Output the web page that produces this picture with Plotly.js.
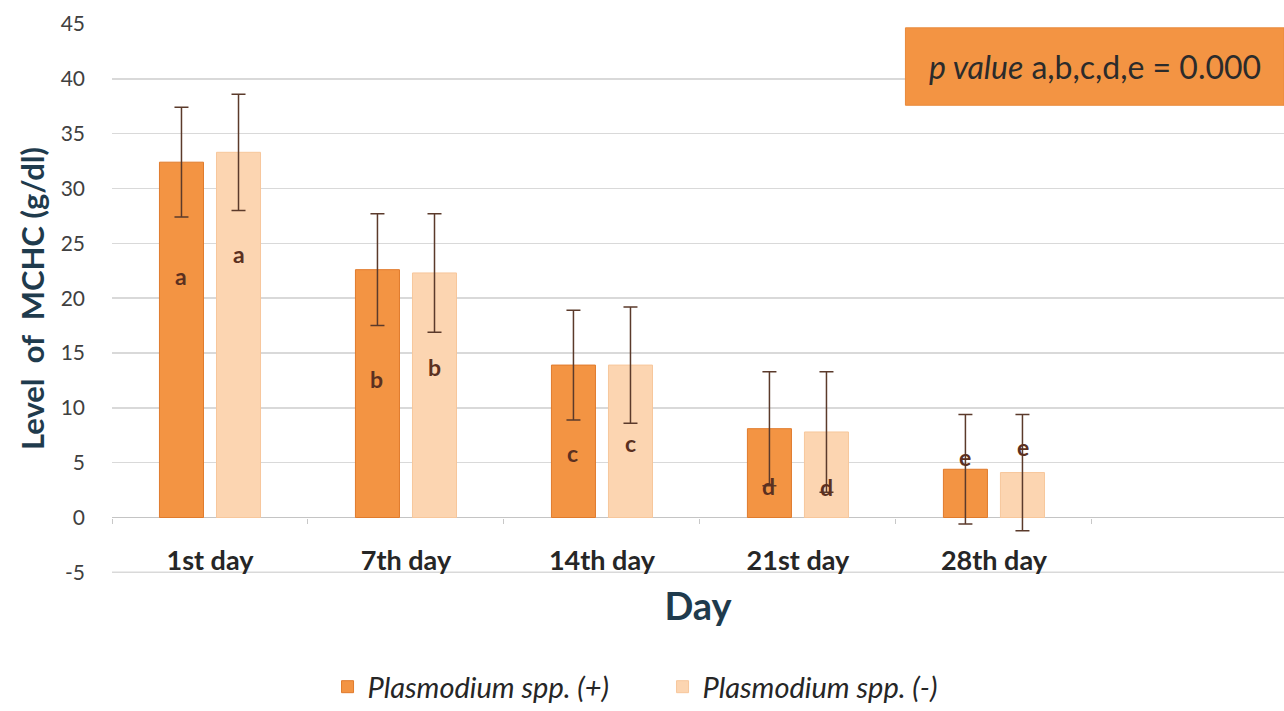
<!DOCTYPE html>
<html><head><meta charset="utf-8">
<script src="https://cdn.plot.ly/plotly-3.0.1.min.js"></script>
<style>html,body{margin:0;padding:0;background:#fff}#chart{width:1284px;height:711px}</style>
</head><body><div id="chart"></div>
<script>
const categories = ["1st day", "7th day", "14th day", "21st day", "28th day"];
const posValues = [32.4, 22.6, 13.9, 8.1, 4.4];
const posErrors = [5.0, 5.1, 5.0, 5.2, 5.0];
const negValues = [33.3, 22.3, 13.9, 7.8, 4.1];
const negErrors = [5.3, 5.4, 5.3, 5.5, 5.3];
const posLetters = ["a", "b", "c", "d", "e"];
const negLetters = ["a", "b", "c", "d", "e"];
const posLetterY = [22.0, 12.6, 5.9, 2.9, 5.5];
const negLetterY = [24.0, 13.7, 6.8, 2.8, 6.4];
const yTicks = [-5, 0, 5, 10, 15, 20, 25, 30, 35, 40, 45];

const FONT = 'Lato, "Open Sans", sans-serif';
const errColor = '#5b3a2b';
const traces = [
  {type:'bar', name:'<i>Plasmodium spp. (+)</i>', x:categories, y:posValues,
   marker:{color:'#f39443', line:{color:'#e07b2c', width:1}},
   error_y:{type:'data', array:posErrors, visible:true, color:errColor, thickness:1.5, width:7}},
  {type:'bar', name:'<i>Plasmodium spp. (-)</i>', x:categories, y:negValues,
   marker:{color:'#fcd5b1', line:{color:'#f7c79c', width:1}},
   error_y:{type:'data', array:negErrors, visible:true, color:errColor, thickness:1.5, width:7}}
];

const annotations = [];
categories.forEach((c, i) => {
  annotations.push({x:c, y:posLetterY[i], xref:'x', yref:'y', text:posLetters[i], showarrow:false, xshift:-29,
    font:{family:FONT, size:23, color:'#5b3020', weight:'bold'}});
  annotations.push({x:c, y:negLetterY[i], xref:'x', yref:'y', text:negLetters[i], showarrow:false, xshift:29,
    font:{family:FONT, size:23, color:'#5b3020', weight:'bold'}});
});
annotations.push({xref:'paper', yref:'paper', x:0.8385, y:0.922, xanchor:'center', yanchor:'middle',
  text:'<i>p value</i> a,b,c,d,e = 0.000', showarrow:false,
  font:{family:FONT, size:32, color:'#2b2b2b'}});

const layout = {
  width:1284, height:711,
  margin:{l:112, r:0, t:24, b:138},
  paper_bgcolor:'#ffffff', plot_bgcolor:'#ffffff',
  barmode:'group', bargap:0.418, bargroupgap:0.228,
  showlegend:true,
  legend:{orientation:'h', xref:'container', yref:'container', x:0.516, xanchor:'center', y:0.034, yanchor:'middle',
    font:{family:FONT, size:29, color:'#262626'}, entrywidth:290, traceorder:'normal'},
  xaxis:{type:'category', range:[-0.5, 5.48], anchor:'free', position:0.1,
    showgrid:false, showline:false, zeroline:false,
    tickson:'boundaries', ticks:'outside', ticklen:5, tickcolor:'#c8c8c8', tickwidth:1,
    ticklabelstandoff:24,
    tickfont:{family:FONT, size:27, color:'#262626', weight:'bold'},
    title:{text:'<b>Day</b>', standoff:18, font:{family:FONT, size:38, color:'#1f3b4d'}}},
  yaxis:{range:[-5.06, 45], tickvals:yTicks, ticktext:yTicks.map(String), showgrid:true, gridcolor:'#d9d9d9', gridwidth:1.5,
    zeroline:true, zerolinecolor:'#c4c4c4', zerolinewidth:1.5, showline:false, ticks:'',
    ticklabelstandoff:26,
    tickfont:{family:FONT, size:21, color:'#404040'},
    title:{text:'<b>Level\u00a0\u00a0of\u00a0\u00a0MCHC (g/dl)</b>', standoff:6, font:{family:FONT, size:31, color:'#1f3b4d'}}},
  shapes:[
    {type:'line', xref:'paper', yref:'y', x0:0, x1:1, y0:yTicks[0], y1:yTicks[0],
     line:{color:'#d9d9d9', width:1.5}, layer:'below'},
    {type:'rect', xref:'paper', yref:'paper', x0:0.677, x1:1.0, y0:0.852, y1:0.993,
     fillcolor:'#f39443', line:{color:'#e8893a', width:1}, layer:'above'}
  ],
  annotations:annotations
};

Plotly.newPlot('chart', traces, layout, {displayModeBar:false, staticPlot:true});
</script>
</body></html>
